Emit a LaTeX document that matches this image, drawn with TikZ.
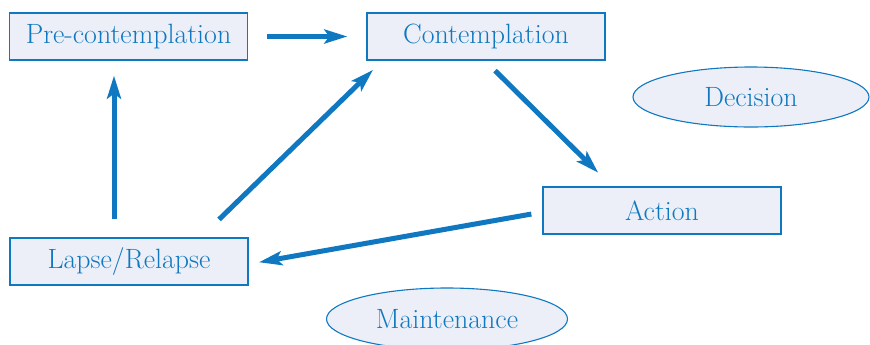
\documentclass[tikz,border=0pt]{standalone}
\usetikzlibrary{arrows.meta,shapes.geometric}
\definecolor{tblue}{HTML}{0F78C0}
\definecolor{tfill}{HTML}{ECEFF8}
\begin{document}
\begin{tikzpicture}[x=1bp,y=-1bp,
  every node/.style={font=\fontsize{28}{33}\selectfont, text=tblue},
  stagebox/.style={draw=tblue, line width=1.3bp, fill=tfill, rectangle, inner sep=0pt,
     minimum width=238bp, minimum height=47bp},
  stageoval/.style={draw=tblue, line width=1.1bp, fill=tfill, ellipse, inner sep=0pt},
  arr/.style={draw=tblue, line width=5bp, -{Stealth[length=23bp,width=14bp,inset=5bp]}}]
\useasboundingbox (0,0) rectangle (870,344);
\node[stagebox] (pre) at (128.5,36.5) {Pre-contemplation};
\node[stagebox] (cont) at (486,36.5) {Contemplation};
\node[stagebox] (act) at (662,210.5) {Action};
\node[stagebox] (lap) at (129,261.5) {Lapse/Relapse};
\node[stageoval, minimum width=236bp, minimum height=60bp] (dec) at (751,97) {Decision};
\node[stageoval, minimum width=241bp, minimum height=62bp] (mai) at (447,319) {Maintenance};
\draw[arr, shorten <=19bp, shorten >=19bp] (pre.east) -- (cont.west);
\draw[arr, shorten <=18bp, shorten >=15bp] ([xshift=-15bp]lap.north) -- ([xshift=-14.5bp]pre.south);
\draw[arr, shorten <=25.7bp, shorten >=13.3bp] ([xshift=71.6bp]lap.north) -- ([xshift=-103.5bp]cont.south);
\draw[arr, shorten <=14.1bp, shorten >=19.4bp] ([xshift=-1bp]cont.south) -- ([xshift=-50bp]act.north);
\draw[arr, shorten <=11.2bp, shorten >=10.5bp] ([yshift=-1.6bp]act.west) -- ([yshift=-2.6bp]lap.east);
\end{tikzpicture}
\end{document}
